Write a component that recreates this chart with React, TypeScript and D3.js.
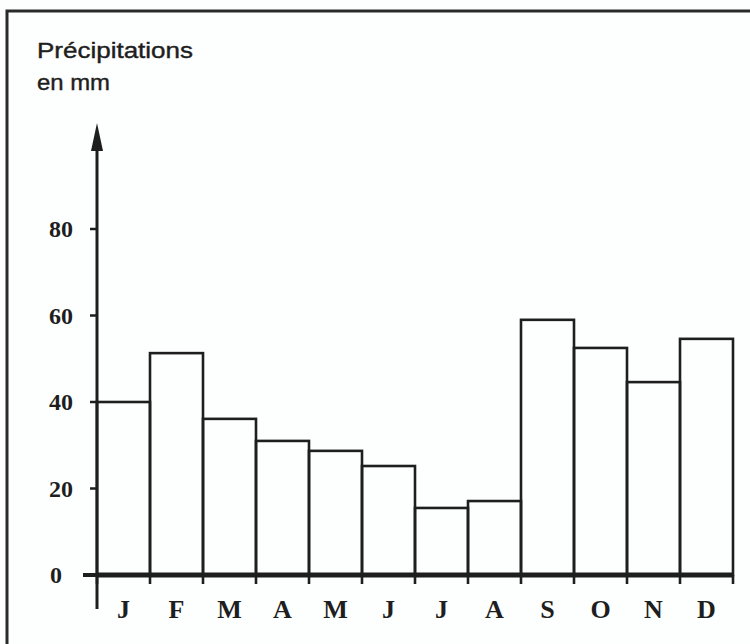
import React from "react";
import * as d3 from "d3";

const months = ["J", "F", "M", "A", "M", "J", "J", "A", "S", "O", "N", "D"];
const precipitation = [40, 51.3, 36.1, 31, 28.7, 25.2, 15.5, 17.1, 59, 52.5, 44.6, 54.6];
const yTicks = [0, 20, 40, 60, 80];
const titleLines = ["Précipitations", "en mm"];

const W = 750;
const H = 644;
const ink = "#1e1e1e";

export default function App() {
  const idx = months.map((_, i) => i);
  const x = d3.scaleBand<number>().domain(idx).range([97, 733]).padding(0);
  const y = d3.scaleLinear().domain([0, 80]).range([575, 229]);
  const y0 = y(0);
  const axisX = 97;
  const edges = [...idx.map((i) => x(i) as number), x.range()[1]];

  return (
    <svg
      width={W}
      height={H}
      style={{ position: "absolute", left: 0, top: 0, background: "#fdfefe" }}
    >
      {/* frame */}
      <path d={`M7,${H + 5} V11 H${W + 5}`} fill="none" stroke="#2a2a2a" strokeWidth={3} />

      {/* title */}
      <text
        x={37}
        y={58}
        fontFamily="Liberation Sans, Arial, sans-serif"
        fontSize={22}
        fill={ink}
        stroke={ink}
        strokeWidth={0.4}
        textLength={156}
        lengthAdjust="spacingAndGlyphs"
      >
        {titleLines[0]}
      </text>
      <text
        x={37}
        y={90}
        fontFamily="Liberation Sans, Arial, sans-serif"
        fontSize={22}
        fill={ink}
        stroke={ink}
        strokeWidth={0.4}
        textLength={73}
        lengthAdjust="spacingAndGlyphs"
      >
        {titleLines[1]}
      </text>

      {/* bars */}
      {precipitation.map((v, i) => (
        <rect
          key={i}
          x={x(i)}
          y={y(v)}
          width={x.bandwidth()}
          height={y0 - y(v)}
          fill="none"
          stroke={ink}
          strokeWidth={2.6}
        />
      ))}

      {/* small ticks below baseline */}
      {edges.map((e, i) => (
        <line key={i} x1={e} x2={e} y1={y0} y2={y0 + 9} stroke={ink} strokeWidth={2.6} />
      ))}

      {/* baseline */}
      <line x1={axisX} x2={x.range()[1]} y1={y0} y2={y0} stroke={ink} strokeWidth={5} />

      {/* y axis with arrow */}
      <line x1={axisX} x2={axisX} y1={140} y2={609} stroke={ink} strokeWidth={3} />
      <path d={`M${axisX},123 L${axisX - 6},151 L${axisX + 6},151 Z`} fill={ink} />

      {/* y ticks */}
      {yTicks.map((t) => (
        <g key={t}>
          <line
            x1={t === 0 ? axisX - 14 : axisX - 7}
            x2={axisX}
            y1={y(t)}
            y2={y(t)}
            stroke={ink}
            strokeWidth={t === 0 ? 4 : 2.5}
          />
          <text
            x={t === 0 ? 62 : 73}
            y={y(t) + 8}
            textAnchor="end"
            fontFamily="Liberation Serif, Times New Roman, serif"
            fontWeight="bold"
            fontSize={24}
            fill={ink}
          >
            {t}
          </text>
        </g>
      ))}

      {/* month labels */}
      {months.map((m, i) => (
        <text
          key={i}
          x={(x(i) as number) + x.bandwidth() / 2}
          y={618}
          textAnchor="middle"
          fontFamily="Liberation Serif, Times New Roman, serif"
          fontWeight="bold"
          fontSize={26}
          fill={ink}
        >
          {m}
        </text>
      ))}
    </svg>
  );
}
